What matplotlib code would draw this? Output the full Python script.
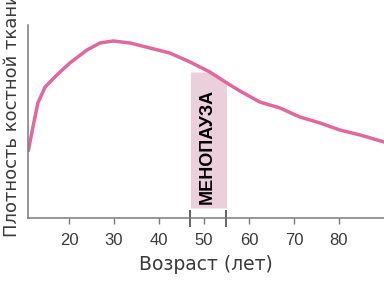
import numpy as np
import matplotlib
matplotlib.use("Agg")
import matplotlib.pyplot as plt

# dati (età in anni, densità in unità arbitrarie)
eta = [11.0, 12.0, 13.1, 14.7, 17.3, 20.2, 24.0, 26.9, 29.8, 33.6, 38.0, 42.4,
       46.9, 51.3, 55.8, 58.0, 62.4, 66.9, 71.3, 75.8, 80.2, 84.7, 90.0]
densita = [68, 91, 115, 131, 143, 155, 168, 175, 177, 175, 170, 165,
           156, 146, 133, 127, 116, 110, 101, 95, 88, 83, 76]

menopausa = [47, 55]
menopausa_alto = 146
tacche = [20, 30, 40, 50, 60, 70, 80]

rosa = "#e2679e"
rosa_chiaro = "#ebd0dc"
grigio = "#7a7a7a"
testo = "#3a3a3a"

plt.rcParams['font.family'] = ['Liberation Sans', 'DejaVu Sans']

fig = plt.figure(figsize=(3.84, 2.81), dpi=100)
ax = fig.add_axes([28 / 384, 63 / 281, 356 / 384, 193 / 281])

# banda della menopausa, tagliata sotto la curva
xb = np.linspace(menopausa[0], menopausa[1], 50)
yb = np.minimum(menopausa_alto, np.interp(xb, eta, densita))
ax.fill_between(xb, 10, yb, color=rosa_chiaro, lw=0)

ax.plot(eta, densita, color=rosa, lw=2.5, solid_joinstyle='round')

# tacche lunghe ai bordi della banda
ax.vlines(menopausa, -9, 8, color=testo, lw=1.1, clip_on=False)

ax.text(sum(menopausa) / 2 - 0.3, 71.5, "МЕНОПАУЗА", rotation=90, ha='center',
        va='center', fontsize=13, fontweight='bold', color='black')

ax.set_xlim(10.9, 90)
ax.set_ylim(0, 193)
ax.set_xticks(tacche)
ax.set_yticks([])
for s in ['top', 'right']:
    ax.spines[s].set_visible(False)
for s in ['left', 'bottom']:
    ax.spines[s].set_color(grigio)
    ax.spines[s].set_linewidth(1.1)
ax.tick_params(axis='x', length=4.5, width=1, color=grigio, labelsize=12,
               labelcolor=testo, pad=6)

ax.set_xlabel("Возраст (лет)", fontsize=13.5, color=testo, labelpad=5,
              family='DejaVu Sans')
# nel riferimento l'etichetta è tagliata in alto
fig.text(12 / 384, 1 - 237 / 281, "Плотность костной ткани", rotation=90,
         ha='center', va='bottom', fontsize=13, color=testo, family='DejaVu Sans')

fig.savefig("out.png", dpi=100)
